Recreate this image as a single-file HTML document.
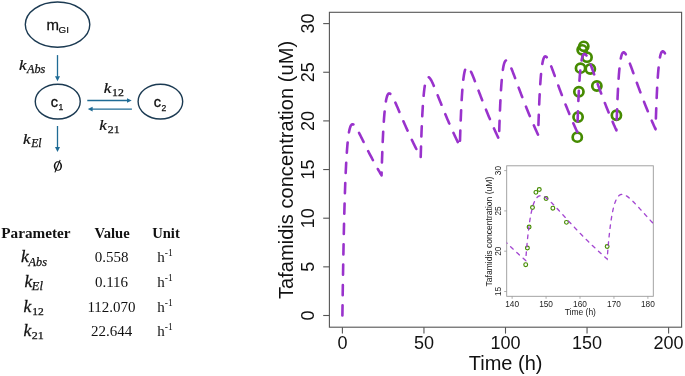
<!DOCTYPE html>
<html><head><meta charset="utf-8"><style>
html,body{margin:0;padding:0;background:#fff;}
svg{display:block;will-change:transform;}
</style></head><body>
<svg width="685" height="376" viewBox="0 0 685 376">
<rect width="685" height="376" fill="#fff"/>
<ellipse cx="57.55" cy="24.6" rx="32.25" ry="22.6" fill="none" stroke="#1b3a52" stroke-width="1.4"/>
<ellipse cx="57.75" cy="101.6" rx="22.5" ry="17.4" fill="none" stroke="#1b3a52" stroke-width="1.4"/>
<ellipse cx="160.4" cy="101.6" rx="22.3" ry="17.4" fill="none" stroke="#1b3a52" stroke-width="1.4"/>
<line x1="57.5" y1="55.1" x2="57.5" y2="76.8" stroke="#1f6b95" stroke-width="1.3"/>
<polygon points="55.0,76.3 60.0,76.3 57.5,81.3" fill="#1f6b95"/>
<line x1="57.5" y1="126" x2="57.5" y2="147.6" stroke="#1f6b95" stroke-width="1.3"/>
<polygon points="55.0,147.1 60.0,147.1 57.5,152.1" fill="#1f6b95"/>
<line x1="87.3" y1="100.5" x2="127.5" y2="100.5" stroke="#1f6b95" stroke-width="1.3"/>
<polygon points="127,98.2 127,102.8 131.7,100.5" fill="#1f6b95"/>
<line x1="92" y1="109.1" x2="131.9" y2="109.1" stroke="#1f6b95" stroke-width="1.3"/>
<polygon points="92.6,106.8 92.6,111.4 87.8,109.1" fill="#1f6b95"/>
<text x="46.6" y="29.6" font-family="Liberation Sans, sans-serif" font-size="15" fill="#111" stroke="#111" stroke-width="0.3">m</text>
<text x="58.6" y="33.3" font-family="Liberation Sans, sans-serif" font-size="9.8" fill="#111" stroke="#111" stroke-width="0.2">GI</text>
<text x="50.8" y="106.8" font-family="Liberation Sans, sans-serif" font-size="14.5" fill="#111" stroke="#111" stroke-width="0.35">c</text>
<text x="58.6" y="110.3" font-family="Liberation Sans, sans-serif" font-size="8.6" fill="#111" stroke="#111" stroke-width="0.25">1</text>
<text x="153.7" y="107" font-family="Liberation Sans, sans-serif" font-size="14.5" fill="#111" stroke="#111" stroke-width="0.35">c</text>
<text x="161.4" y="110.75" font-family="Liberation Sans, sans-serif" font-size="8.6" fill="#111" stroke="#111" stroke-width="0.25">2</text>
<text transform="translate(19.1,69.6) scale(1.1,1)" font-family="Liberation Serif, serif" font-size="15.5" font-style="italic" fill="#111" stroke="#111" stroke-width="0.25">k</text>
<text x="27.0" y="72.8" font-family="Liberation Serif, serif" font-size="11.5" font-style="italic" fill="#111" stroke="#111" stroke-width="0.25" textLength="18.30" lengthAdjust="spacingAndGlyphs">Abs</text>
<text transform="translate(22.9,143.6) scale(1.1,1)" font-family="Liberation Serif, serif" font-size="15.5" font-style="italic" fill="#111" stroke="#111" stroke-width="0.25">k</text>
<text x="31.2" y="146.8" font-family="Liberation Serif, serif" font-size="11.5" font-style="italic" fill="#111" stroke="#111" stroke-width="0.25" textLength="10.40" lengthAdjust="spacingAndGlyphs">El</text>
<text transform="translate(103.8,92.6) scale(1.1,1)" font-family="Liberation Serif, serif" font-size="15.5" font-style="italic" fill="#111" stroke="#111" stroke-width="0.25">k</text>
<text x="112.0" y="95.6" font-family="Liberation Serif, serif" font-size="10" font-style="normal" fill="#111" stroke="#111" stroke-width="0.25" textLength="11.80" lengthAdjust="spacingAndGlyphs">12</text>
<text transform="translate(99.3,129.5) scale(1.1,1)" font-family="Liberation Serif, serif" font-size="15.5" font-style="italic" fill="#111" stroke="#111" stroke-width="0.25">k</text>
<text x="107.8" y="132.6" font-family="Liberation Serif, serif" font-size="10" font-style="normal" fill="#111" stroke="#111" stroke-width="0.25" textLength="11.80" lengthAdjust="spacingAndGlyphs">21</text>
<ellipse cx="57.9" cy="166.1" rx="4.15" ry="4.75" fill="#111"/>
<ellipse cx="57.9" cy="166.1" rx="2.55" ry="3.85" fill="#fff"/>
<line x1="60.2" y1="160.0" x2="54.9" y2="172.4" stroke="#111" stroke-width="1.1"/>
<text x="1.3" y="238" font-family="Liberation Serif, serif" font-size="14.7" font-weight="bold" fill="#111" textLength="69.2" lengthAdjust="spacingAndGlyphs">Parameter</text>
<text x="112.1" y="238" font-family="Liberation Serif, serif" font-size="14.6" font-weight="bold" text-anchor="middle" fill="#111">Value</text>
<text x="166" y="238" font-family="Liberation Serif, serif" font-size="14.6" font-weight="bold" text-anchor="middle" fill="#111">Unit</text>
<text transform="translate(21.0,262.4) scale(1.08,1)" font-family="Liberation Serif, serif" font-size="16.2" font-style="italic" fill="#111" stroke="#111" stroke-width="0.25">k</text>
<text x="28.6" y="265.59999999999997" font-family="Liberation Serif, serif" font-size="11.8" font-style="italic" fill="#111" stroke="#111" stroke-width="0.25" textLength="18.30" lengthAdjust="spacingAndGlyphs">Abs</text>
<text x="111.5" y="262.4" font-family="Liberation Serif, serif" font-size="15" text-anchor="middle" fill="#111">0.558</text>
<text x="157.3" y="262.4" font-family="Liberation Serif, serif" font-size="15" fill="#111">h<tspan dy="-6" font-size="9.5">-1</tspan></text>
<text transform="translate(24.6,286.7) scale(1.08,1)" font-family="Liberation Serif, serif" font-size="16.2" font-style="italic" fill="#111" stroke="#111" stroke-width="0.25">k</text>
<text x="31.8" y="289.9" font-family="Liberation Serif, serif" font-size="11.8" font-style="italic" fill="#111" stroke="#111" stroke-width="0.25" textLength="11.10" lengthAdjust="spacingAndGlyphs">El</text>
<text x="111.5" y="286.7" font-family="Liberation Serif, serif" font-size="15" text-anchor="middle" fill="#111">0.116</text>
<text x="157.3" y="286.7" font-family="Liberation Serif, serif" font-size="15" fill="#111">h<tspan dy="-6" font-size="9.5">-1</tspan></text>
<text transform="translate(23.6,311.7) scale(1.08,1)" font-family="Liberation Serif, serif" font-size="16.2" font-style="italic" fill="#111" stroke="#111" stroke-width="0.25">k</text>
<text x="32.3" y="314.9" font-family="Liberation Serif, serif" font-size="10.8" font-style="normal" fill="#111" stroke="#111" stroke-width="0.25" textLength="11.50" lengthAdjust="spacingAndGlyphs">12</text>
<text x="111.5" y="311.7" font-family="Liberation Serif, serif" font-size="15" text-anchor="middle" fill="#111">112.070</text>
<text x="157.3" y="311.7" font-family="Liberation Serif, serif" font-size="15" fill="#111">h<tspan dy="-6" font-size="9.5">-1</tspan></text>
<text transform="translate(23.6,336.0) scale(1.08,1)" font-family="Liberation Serif, serif" font-size="16.2" font-style="italic" fill="#111" stroke="#111" stroke-width="0.25">k</text>
<text x="31.8" y="339.2" font-family="Liberation Serif, serif" font-size="10.8" font-style="normal" fill="#111" stroke="#111" stroke-width="0.25" textLength="12.00" lengthAdjust="spacingAndGlyphs">21</text>
<text x="111.5" y="336.0" font-family="Liberation Serif, serif" font-size="15" text-anchor="middle" fill="#111">22.644</text>
<text x="157.3" y="336.0" font-family="Liberation Serif, serif" font-size="15" fill="#111">h<tspan dy="-6" font-size="9.5">-1</tspan></text>
<rect x="329.4" y="12.3" width="352.2" height="314.9" fill="none" stroke="#555" stroke-width="1.1"/>
<line x1="323.2" y1="315.50" x2="329.4" y2="315.50" stroke="#555" stroke-width="1.1"/>
<text transform="translate(314.4,315.50) rotate(-90)" font-family="Liberation Sans, sans-serif" font-size="18" text-anchor="middle" fill="#111">0</text>
<line x1="323.2" y1="266.85" x2="329.4" y2="266.85" stroke="#555" stroke-width="1.1"/>
<text transform="translate(314.4,266.85) rotate(-90)" font-family="Liberation Sans, sans-serif" font-size="18" text-anchor="middle" fill="#111">5</text>
<line x1="323.2" y1="218.20" x2="329.4" y2="218.20" stroke="#555" stroke-width="1.1"/>
<text transform="translate(314.4,218.20) rotate(-90)" font-family="Liberation Sans, sans-serif" font-size="18" text-anchor="middle" fill="#111">10</text>
<line x1="323.2" y1="169.55" x2="329.4" y2="169.55" stroke="#555" stroke-width="1.1"/>
<text transform="translate(314.4,169.55) rotate(-90)" font-family="Liberation Sans, sans-serif" font-size="18" text-anchor="middle" fill="#111">15</text>
<line x1="323.2" y1="120.90" x2="329.4" y2="120.90" stroke="#555" stroke-width="1.1"/>
<text transform="translate(314.4,120.90) rotate(-90)" font-family="Liberation Sans, sans-serif" font-size="18" text-anchor="middle" fill="#111">20</text>
<line x1="323.2" y1="72.25" x2="329.4" y2="72.25" stroke="#555" stroke-width="1.1"/>
<text transform="translate(314.4,72.25) rotate(-90)" font-family="Liberation Sans, sans-serif" font-size="18" text-anchor="middle" fill="#111">25</text>
<line x1="323.2" y1="23.60" x2="329.4" y2="23.60" stroke="#555" stroke-width="1.1"/>
<text transform="translate(314.4,23.60) rotate(-90)" font-family="Liberation Sans, sans-serif" font-size="18" text-anchor="middle" fill="#111">30</text>
<line x1="342.40" y1="327.2" x2="342.40" y2="333.6" stroke="#555" stroke-width="1.1"/>
<text x="342.40" y="349.2" font-family="Liberation Sans, sans-serif" font-size="18" text-anchor="middle" fill="#111">0</text>
<line x1="423.95" y1="327.2" x2="423.95" y2="333.6" stroke="#555" stroke-width="1.1"/>
<text x="423.95" y="349.2" font-family="Liberation Sans, sans-serif" font-size="18" text-anchor="middle" fill="#111">50</text>
<line x1="505.50" y1="327.2" x2="505.50" y2="333.6" stroke="#555" stroke-width="1.1"/>
<text x="505.50" y="349.2" font-family="Liberation Sans, sans-serif" font-size="18" text-anchor="middle" fill="#111">100</text>
<line x1="587.05" y1="327.2" x2="587.05" y2="333.6" stroke="#555" stroke-width="1.1"/>
<text x="587.05" y="349.2" font-family="Liberation Sans, sans-serif" font-size="18" text-anchor="middle" fill="#111">150</text>
<line x1="668.60" y1="327.2" x2="668.60" y2="333.6" stroke="#555" stroke-width="1.1"/>
<text x="668.60" y="349.2" font-family="Liberation Sans, sans-serif" font-size="18" text-anchor="middle" fill="#111">200</text>
<text x="505.6" y="369.8" font-family="Liberation Sans, sans-serif" font-size="20" text-anchor="middle" fill="#111">Time (h)</text>
<text transform="translate(293.3,170.0) rotate(-90)" font-family="Liberation Sans, sans-serif" font-size="20.13" text-anchor="middle" fill="#111">Tafamidis concentration (uM)</text>
<clipPath id="mc"><rect x="329.4" y="12.3" width="352.2" height="314.9"/></clipPath>
<circle cx="577.26" cy="137.15" r="4.6" fill="none" stroke="#458B00" stroke-width="2.7"/>
<circle cx="578.08" cy="117.01" r="4.6" fill="none" stroke="#458B00" stroke-width="2.7"/>
<circle cx="578.89" cy="91.71" r="4.6" fill="none" stroke="#458B00" stroke-width="2.7"/>
<circle cx="580.53" cy="68.16" r="4.6" fill="none" stroke="#458B00" stroke-width="2.7"/>
<circle cx="582.16" cy="49.87" r="4.6" fill="none" stroke="#458B00" stroke-width="2.7"/>
<circle cx="583.79" cy="46.37" r="4.6" fill="none" stroke="#458B00" stroke-width="2.7"/>
<circle cx="587.05" cy="57.17" r="4.6" fill="none" stroke="#458B00" stroke-width="2.7"/>
<circle cx="590.31" cy="68.94" r="4.6" fill="none" stroke="#458B00" stroke-width="2.7"/>
<circle cx="596.84" cy="86.07" r="4.6" fill="none" stroke="#458B00" stroke-width="2.7"/>
<circle cx="616.41" cy="115.26" r="4.6" fill="none" stroke="#458B00" stroke-width="2.7"/>
<polyline clip-path="url(#mc)" points="342.40,315.50 342.81,287.45 343.22,263.19 343.62,242.23 344.03,224.13 344.44,208.52 344.85,195.07 345.25,183.51 345.66,173.59 346.07,165.09 346.48,157.83 346.89,151.65 347.29,146.40 347.70,141.96 348.11,138.23 348.52,135.12 348.92,132.53 349.33,130.41 349.74,128.70 350.15,127.33 350.55,126.26 350.96,125.46 351.37,124.88 351.78,124.51 352.19,124.30 352.59,124.25 353.00,124.32 353.41,124.50 353.82,124.78 354.22,125.15 354.63,125.58 355.04,126.08 355.45,126.63 355.86,127.22 356.26,127.86 356.67,128.52 357.08,129.22 357.49,129.94 357.89,130.68 358.30,131.44 358.71,132.22 359.12,133.00 359.53,133.80 359.93,134.60 360.34,135.41 360.75,136.23 361.16,137.04 361.56,137.87 361.97,138.69 362.38,139.52 362.79,140.34 363.20,141.17 363.60,141.99 364.01,142.82 364.42,143.64 364.83,144.46 365.23,145.28 365.64,146.09 366.05,146.91 366.46,147.72 366.86,148.53 367.27,149.33 367.68,150.14 368.09,150.93 368.50,151.73 368.90,152.52 369.31,153.31 369.72,154.10 370.13,154.88 370.53,155.66 370.94,156.43 371.35,157.21 371.76,157.97 372.17,158.74 372.57,159.50 372.98,160.26 373.39,161.01 373.80,161.76 374.20,162.51 374.61,163.25 375.02,163.99 375.43,164.73 375.84,165.46 376.24,166.19 376.65,166.92 377.06,167.64 377.47,168.36 377.87,169.07 378.28,169.79 378.69,170.49 379.10,171.20 379.51,171.90 379.91,172.60 380.32,173.29 380.73,173.99 381.14,174.67 381.54,175.36 381.95,161.98 382.36,150.49 382.77,140.66 383.17,132.26 383.58,125.10 383.99,119.03 384.40,113.89 384.81,109.58 385.21,105.97 385.62,102.98 386.03,100.53 386.44,98.55 386.84,96.97 387.25,95.74 387.66,94.81 388.07,94.15 388.48,93.72 388.88,93.48 389.29,93.42 389.70,93.51 390.11,93.72 390.51,94.05 390.92,94.47 391.33,94.98 391.74,95.56 392.15,96.20 392.55,96.89 392.96,97.63 393.37,98.40 393.78,99.21 394.18,100.05 394.59,100.91 395.00,101.79 395.41,102.69 395.82,103.60 396.22,104.53 396.63,105.46 397.04,106.40 397.45,107.35 397.85,108.30 398.26,109.25 398.67,110.21 399.08,111.17 399.48,112.13 399.89,113.09 400.30,114.04 400.71,115.00 401.12,115.96 401.52,116.91 401.93,117.86 402.34,118.81 402.75,119.75 403.15,120.69 403.56,121.63 403.97,122.57 404.38,123.50 404.79,124.43 405.19,125.35 405.60,126.27 406.01,127.19 406.42,128.10 406.82,129.01 407.23,129.91 407.64,130.81 408.05,131.71 408.46,132.60 408.86,133.49 409.27,134.37 409.68,135.25 410.09,136.13 410.49,137.00 410.90,137.87 411.31,138.73 411.72,139.59 412.13,140.45 412.53,141.30 412.94,142.14 413.35,142.99 413.76,143.82 414.16,144.66 414.57,145.49 414.98,146.32 415.39,147.14 415.79,147.96 416.20,148.77 416.61,149.58 417.02,150.39 417.43,151.19 417.83,151.99 418.24,152.79 418.65,153.58 419.06,154.36 419.46,155.15 419.87,155.93 420.28,156.70 420.69,157.48 421.10,144.18 421.50,132.79 421.91,123.04 422.32,114.72 422.73,107.65 423.13,101.66 423.54,96.61 423.95,92.38 424.36,88.86 424.77,85.95 425.17,83.58 425.58,81.68 425.99,80.18 426.40,79.03 426.80,78.19 427.21,77.61 427.62,77.26 428.03,77.10 428.44,77.12 428.84,77.29 429.25,77.58 429.66,77.99 430.07,78.49 430.47,79.07 430.88,79.73 431.29,80.44 431.70,81.21 432.10,82.03 432.51,82.88 432.92,83.76 433.33,84.68 433.74,85.61 434.14,86.57 434.55,87.54 434.96,88.53 435.37,89.52 435.77,90.53 436.18,91.54 436.59,92.56 437.00,93.59 437.41,94.61 437.81,95.64 438.22,96.67 438.63,97.70 439.04,98.73 439.44,99.75 439.85,100.78 440.26,101.80 440.67,102.83 441.08,103.85 441.48,104.86 441.89,105.87 442.30,106.88 442.71,107.89 443.11,108.89 443.52,109.89 443.93,110.88 444.34,111.87 444.75,112.86 445.15,113.84 445.56,114.82 445.97,115.79 446.38,116.76 446.78,117.73 447.19,118.68 447.60,119.64 448.01,120.59 448.41,121.54 448.82,122.48 449.23,123.42 449.64,124.35 450.05,125.28 450.45,126.20 450.86,127.12 451.27,128.04 451.68,128.95 452.08,129.86 452.49,130.76 452.90,131.66 453.31,132.55 453.72,133.44 454.12,134.33 454.53,135.21 454.94,136.08 455.35,136.96 455.75,137.82 456.16,138.69 456.57,139.55 456.98,140.40 457.39,141.25 457.79,142.10 458.20,142.95 458.61,143.78 459.02,144.62 459.42,145.45 459.83,146.28 460.24,133.04 460.65,121.70 461.06,112.00 461.46,103.74 461.87,96.72 462.28,90.78 462.69,85.79 463.09,81.61 463.50,78.14 463.91,75.29 464.32,72.97 464.72,71.12 465.13,69.67 465.54,68.57 465.95,67.78 466.36,67.25 466.76,66.95 467.17,66.84 467.58,66.91 467.99,67.13 468.39,67.47 468.80,67.93 469.21,68.48 469.62,69.11 470.03,69.81 470.43,70.58 470.84,71.39 471.25,72.26 471.66,73.16 472.06,74.09 472.47,75.05 472.88,76.03 473.29,77.03 473.70,78.05 474.10,79.08 474.51,80.13 474.92,81.18 475.33,82.24 475.73,83.30 476.14,84.37 476.55,85.44 476.96,86.51 477.37,87.59 477.77,88.66 478.18,89.73 478.59,90.81 479.00,91.87 479.40,92.94 479.81,94.01 480.22,95.07 480.63,96.13 481.03,97.18 481.44,98.23 481.85,99.28 482.26,100.33 482.67,101.37 483.07,102.40 483.48,103.43 483.89,104.46 484.30,105.48 484.70,106.50 485.11,107.51 485.52,108.52 485.93,109.53 486.34,110.53 486.74,111.52 487.15,112.51 487.56,113.50 487.97,114.48 488.37,115.46 488.78,116.43 489.19,117.40 489.60,118.36 490.01,119.32 490.41,120.27 490.82,121.22 491.23,122.16 491.64,123.10 492.04,124.04 492.45,124.97 492.86,125.90 493.27,126.82 493.68,127.73 494.08,128.65 494.49,129.56 494.90,130.46 495.31,131.36 495.71,132.26 496.12,133.15 496.53,134.03 496.94,134.92 497.34,135.79 497.75,136.67 498.16,137.54 498.57,138.40 498.98,139.26 499.38,126.06 499.79,114.75 500.20,105.09 500.61,96.86 501.01,89.87 501.42,83.97 501.83,79.01 502.24,74.86 502.65,71.43 503.05,68.61 503.46,66.32 503.87,64.50 504.28,63.09 504.68,62.02 505.09,61.26 505.50,60.76 505.91,60.49 506.32,60.42 506.72,60.52 507.13,60.76 507.54,61.14 507.95,61.62 508.35,62.21 508.76,62.87 509.17,63.60 509.58,64.40 509.99,65.25 510.39,66.14 510.80,67.07 511.21,68.03 511.62,69.02 512.02,70.03 512.43,71.06 512.84,72.11 513.25,73.17 513.65,74.24 514.06,75.32 514.47,76.41 514.88,77.50 515.29,78.60 515.69,79.70 516.10,80.80 516.51,81.90 516.92,83.00 517.32,84.10 517.73,85.20 518.14,86.30 518.55,87.39 518.96,88.48 519.36,89.57 519.77,90.66 520.18,91.74 520.59,92.82 520.99,93.89 521.40,94.96 521.81,96.03 522.22,97.09 522.63,98.15 523.03,99.20 523.44,100.25 523.85,101.29 524.26,102.33 524.66,103.36 525.07,104.39 525.48,105.42 525.89,106.44 526.30,107.45 526.70,108.46 527.11,109.47 527.52,110.47 527.93,111.47 528.33,112.46 528.74,113.44 529.15,114.43 529.56,115.40 529.96,116.38 530.37,117.34 530.78,118.31 531.19,119.27 531.60,120.22 532.00,121.17 532.41,122.11 532.82,123.05 533.23,123.99 533.63,124.92 534.04,125.85 534.45,126.77 534.86,127.69 535.27,128.60 535.67,129.51 536.08,130.41 536.49,131.31 536.90,132.21 537.30,133.10 537.71,133.99 538.12,134.87 538.53,121.69 538.94,110.40 539.34,100.76 539.75,92.55 540.16,85.59 540.57,79.71 540.97,74.76 541.38,70.64 541.79,67.22 542.20,64.42 542.61,62.16 543.01,60.36 543.42,58.96 543.83,57.92 544.24,57.18 544.64,56.70 545.05,56.45 545.46,56.39 545.87,56.51 546.27,56.78 546.68,57.17 547.09,57.68 547.50,58.28 547.91,58.96 548.31,59.71 548.72,60.53 549.13,61.39 549.54,62.31 549.94,63.25 550.35,64.23 550.76,65.24 551.17,66.27 551.58,67.32 551.98,68.39 552.39,69.47 552.80,70.56 553.21,71.66 553.61,72.76 554.02,73.87 554.43,74.99 554.84,76.10 555.25,77.22 555.65,78.34 556.06,79.46 556.47,80.57 556.88,81.69 557.28,82.80 557.69,83.92 558.10,85.02 558.51,86.13 558.92,87.23 559.32,88.33 559.73,89.43 560.14,90.52 560.55,91.60 560.95,92.68 561.36,93.76 561.77,94.84 562.18,95.90 562.59,96.97 562.99,98.03 563.40,99.08 563.81,100.13 564.22,101.18 564.62,102.22 565.03,103.25 565.44,104.28 565.85,105.31 566.25,106.33 566.66,107.35 567.07,108.36 567.48,109.37 567.89,110.37 568.29,111.36 568.70,112.36 569.11,113.34 569.52,114.33 569.92,115.30 570.33,116.28 570.74,117.25 571.15,118.21 571.56,119.17 571.96,120.12 572.37,121.07 572.78,122.02 573.19,122.96 573.59,123.90 574.00,124.83 574.41,125.75 574.82,126.68 575.23,127.60 575.63,128.51 576.04,129.42 576.45,130.32 576.86,131.22 577.26,132.12 577.67,118.95 578.08,107.68 578.49,98.05 578.89,89.85 579.30,82.90 579.71,77.03 580.12,72.10 580.53,67.99 580.93,64.59 581.34,61.80 581.75,59.55 582.16,57.77 582.56,56.38 582.97,55.35 583.38,54.62 583.79,54.15 584.20,53.92 584.60,53.87 585.01,54.01 585.42,54.28 585.83,54.69 586.23,55.21 586.64,55.82 587.05,56.51 587.46,57.28 587.87,58.11 588.27,58.98 588.68,59.91 589.09,60.87 589.50,61.86 589.90,62.88 590.31,63.92 590.72,64.98 591.13,66.06 591.54,67.15 591.94,68.25 592.35,69.36 592.76,70.48 593.17,71.60 593.57,72.72 593.98,73.85 594.39,74.98 594.80,76.11 595.20,77.24 595.61,78.36 596.02,79.49 596.43,80.62 596.84,81.74 597.24,82.86 597.65,83.97 598.06,85.09 598.47,86.20 598.87,87.30 599.28,88.40 599.69,89.50 600.10,90.59 600.51,91.68 600.91,92.76 601.32,93.84 601.73,94.92 602.14,95.98 602.54,97.05 602.95,98.11 603.36,99.16 603.77,100.21 604.18,101.26 604.58,102.30 604.99,103.34 605.40,104.37 605.81,105.39 606.21,106.41 606.62,107.43 607.03,108.44 607.44,109.45 607.85,110.45 608.25,111.44 608.66,112.44 609.07,113.42 609.48,114.41 609.88,115.38 610.29,116.36 610.70,117.32 611.11,118.29 611.51,119.25 611.92,120.20 612.33,121.15 612.74,122.10 613.15,123.04 613.55,123.97 613.96,124.90 614.37,125.83 614.78,126.75 615.18,127.67 615.59,128.58 616.00,129.49 616.41,130.40 616.82,117.24 617.22,105.97 617.63,96.35 618.04,88.16 618.45,81.22 618.85,75.36 619.26,70.44 619.67,66.34 620.08,62.94 620.49,60.16 620.89,57.92 621.30,56.14 621.71,54.77 622.12,53.74 622.52,53.02 622.93,52.56 623.34,52.33 623.75,52.30 624.16,52.44 624.56,52.72 624.97,53.14 625.38,53.66 625.79,54.28 626.19,54.98 626.60,55.75 627.01,56.59 627.42,57.47 627.83,58.40 628.23,59.37 628.64,60.37 629.05,61.40 629.46,62.44 629.86,63.51 630.27,64.60 630.68,65.70 631.09,66.80 631.49,67.92 631.90,69.04 632.31,70.17 632.72,71.30 633.13,72.44 633.53,73.57 633.94,74.71 634.35,75.85 634.76,76.98 635.16,78.11 635.57,79.25 635.98,80.38 636.39,81.50 636.80,82.62 637.20,83.74 637.61,84.86 638.02,85.97 638.43,87.08 638.83,88.18 639.24,89.28 639.65,90.37 640.06,91.46 640.47,92.55 640.87,93.63 641.28,94.71 641.69,95.78 642.10,96.84 642.50,97.90 642.91,98.96 643.32,100.01 643.73,101.06 644.13,102.10 644.54,103.14 644.95,104.17 645.36,105.19 645.77,106.22 646.17,107.23 646.58,108.25 646.99,109.25 647.40,110.25 647.80,111.25 648.21,112.25 648.62,113.23 649.03,114.22 649.44,115.20 649.84,116.17 650.25,117.14 650.66,118.10 651.07,119.06 651.47,120.02 651.88,120.97 652.29,121.91 652.70,122.86 653.11,123.79 653.51,124.72 653.92,125.65 654.33,126.58 654.74,127.49 655.14,128.41 655.55,129.32 655.96,116.16 656.37,104.90 656.78,95.29 657.18,87.11 657.59,80.17 658.00,74.31 658.41,69.40 658.81,65.30 659.22,61.91 659.63,59.13 660.04,56.90 660.44,55.12 660.85,53.75 661.26,52.73 661.67,52.02 662.08,51.56 662.48,51.34 662.89,51.31 663.30,51.45 663.71,51.74 664.11,52.16 664.52,52.69 664.93,53.32 665.34,54.02 665.75,54.80 666.15,55.64 666.56,56.53 666.97,57.46 667.38,58.43 667.78,59.44 668.19,60.47 668.60,61.52" fill="none" stroke="#9932CC" stroke-width="2.6" stroke-dasharray="10.2 10.17" stroke-linecap="round" stroke-linejoin="round"/>
<rect x="470" y="160" width="200" height="165" fill="#fff"/>
<clipPath id="ic"><rect x="506.7" y="165.8" width="146.6" height="130.5"/></clipPath>
<rect x="506.7" y="165.8" width="146.6" height="130.5" fill="none" stroke="#999" stroke-width="0.9"/>
<line x1="504.2" y1="291.50" x2="506.7" y2="291.50" stroke="#999" stroke-width="0.8"/>
<text transform="translate(500.7,291.50) rotate(-90)" font-family="Liberation Sans, sans-serif" font-size="8.3" text-anchor="middle" fill="#222">15</text>
<line x1="504.2" y1="251.20" x2="506.7" y2="251.20" stroke="#999" stroke-width="0.8"/>
<text transform="translate(500.7,251.20) rotate(-90)" font-family="Liberation Sans, sans-serif" font-size="8.3" text-anchor="middle" fill="#222">20</text>
<line x1="504.2" y1="210.90" x2="506.7" y2="210.90" stroke="#999" stroke-width="0.8"/>
<text transform="translate(500.7,210.90) rotate(-90)" font-family="Liberation Sans, sans-serif" font-size="8.3" text-anchor="middle" fill="#222">25</text>
<line x1="504.2" y1="170.60" x2="506.7" y2="170.60" stroke="#999" stroke-width="0.8"/>
<text transform="translate(500.7,170.60) rotate(-90)" font-family="Liberation Sans, sans-serif" font-size="8.3" text-anchor="middle" fill="#222">30</text>
<line x1="512.13" y1="296.3" x2="512.13" y2="298.8" stroke="#999" stroke-width="0.8"/>
<text x="512.13" y="306.5" font-family="Liberation Sans, sans-serif" font-size="8.3" text-anchor="middle" fill="#222">140</text>
<line x1="546.07" y1="296.3" x2="546.07" y2="298.8" stroke="#999" stroke-width="0.8"/>
<text x="546.07" y="306.5" font-family="Liberation Sans, sans-serif" font-size="8.3" text-anchor="middle" fill="#222">150</text>
<line x1="580.01" y1="296.3" x2="580.01" y2="298.8" stroke="#999" stroke-width="0.8"/>
<text x="580.01" y="306.5" font-family="Liberation Sans, sans-serif" font-size="8.3" text-anchor="middle" fill="#222">160</text>
<line x1="613.95" y1="296.3" x2="613.95" y2="298.8" stroke="#999" stroke-width="0.8"/>
<text x="613.95" y="306.5" font-family="Liberation Sans, sans-serif" font-size="8.3" text-anchor="middle" fill="#222">170</text>
<line x1="647.89" y1="296.3" x2="647.89" y2="298.8" stroke="#999" stroke-width="0.8"/>
<text x="647.89" y="306.5" font-family="Liberation Sans, sans-serif" font-size="8.3" text-anchor="middle" fill="#222">180</text>
<text x="580.3" y="315.2" font-family="Liberation Sans, sans-serif" font-size="8.5" text-anchor="middle" fill="#1a1a1a">Time (h)</text>
<text transform="translate(491.7,231.6) rotate(-90)" font-family="Liberation Sans, sans-serif" font-size="8.55" text-anchor="middle" fill="#1a1a1a">Tafamidis concentration (uM)</text>
<circle cx="525.71" cy="264.66" r="1.9" fill="none" stroke="#458B00" stroke-width="1.15"/>
<circle cx="527.40" cy="247.98" r="1.9" fill="none" stroke="#458B00" stroke-width="1.15"/>
<circle cx="529.10" cy="227.02" r="1.9" fill="none" stroke="#458B00" stroke-width="1.15"/>
<circle cx="532.49" cy="207.51" r="1.9" fill="none" stroke="#458B00" stroke-width="1.15"/>
<circle cx="535.89" cy="192.36" r="1.9" fill="none" stroke="#458B00" stroke-width="1.15"/>
<circle cx="539.28" cy="189.46" r="1.9" fill="none" stroke="#458B00" stroke-width="1.15"/>
<circle cx="546.07" cy="198.41" r="1.9" fill="none" stroke="#458B00" stroke-width="1.15"/>
<circle cx="552.86" cy="208.16" r="1.9" fill="none" stroke="#458B00" stroke-width="1.15"/>
<circle cx="566.43" cy="222.35" r="1.9" fill="none" stroke="#458B00" stroke-width="1.15"/>
<circle cx="607.16" cy="246.53" r="1.9" fill="none" stroke="#458B00" stroke-width="1.15"/>
<polyline clip-path="url(#ic)" points="478.19,213.17 478.53,213.54 478.87,213.91 479.21,214.28 479.55,214.65 479.89,215.02 480.23,215.39 480.57,215.76 480.91,216.13 481.24,216.50 481.58,216.87 481.92,217.24 482.26,217.61 482.60,217.98 482.94,218.35 483.28,218.72 483.62,219.09 483.96,219.46 484.30,219.83 484.64,220.20 484.98,220.56 485.32,220.93 485.66,221.30 486.00,221.67 486.34,222.03 486.68,222.40 487.01,222.76 487.35,223.13 487.69,223.49 488.03,223.86 488.37,224.22 488.71,224.58 489.05,224.95 489.39,225.31 489.73,225.67 490.07,226.03 490.41,226.39 490.75,226.75 491.09,227.11 491.43,227.47 491.77,227.83 492.11,228.19 492.45,228.54 492.78,228.90 493.12,229.25 493.46,229.61 493.80,229.96 494.14,230.32 494.48,230.67 494.82,231.02 495.16,231.38 495.50,231.73 495.84,232.08 496.18,232.43 496.52,232.78 496.86,233.13 497.20,233.48 497.54,233.82 497.88,234.17 498.21,234.52 498.55,234.86 498.89,235.21 499.23,235.55 499.57,235.90 499.91,236.24 500.25,236.58 500.59,236.92 500.93,237.27 501.27,237.61 501.61,237.95 501.95,238.29 502.29,238.62 502.63,238.96 502.97,239.30 503.31,239.64 503.65,239.97 503.98,240.31 504.32,240.64 504.66,240.98 505.00,241.31 505.34,241.65 505.68,241.98 506.02,242.31 506.36,242.64 506.70,242.97 507.04,243.30 507.38,243.63 507.72,243.96 508.06,244.29 508.40,244.61 508.74,244.94 509.08,245.27 509.42,245.59 509.75,245.92 510.09,246.24 510.43,246.56 510.77,246.89 511.11,247.21 511.45,247.53 511.79,247.85 512.13,248.17 512.47,248.49 512.81,248.81 513.15,249.13 513.49,249.45 513.83,249.77 514.17,250.08 514.51,250.40 514.85,250.71 515.18,251.03 515.52,251.34 515.86,251.66 516.20,251.97 516.54,252.28 516.88,252.59 517.22,252.91 517.56,253.22 517.90,253.53 518.24,253.84 518.58,254.15 518.92,254.45 519.26,254.76 519.60,255.07 519.94,255.37 520.28,255.68 520.62,255.99 520.95,256.29 521.29,256.59 521.63,256.90 521.97,257.20 522.31,257.50 522.65,257.80 522.99,258.11 523.33,258.41 523.67,258.71 524.01,259.01 524.35,259.30 524.69,259.60 525.03,259.90 525.37,260.20 525.71,260.49 526.05,255.93 526.39,251.63 526.72,247.60 527.06,243.81 527.40,240.25 527.74,236.90 528.08,233.77 528.42,230.82 528.76,228.07 529.10,225.48 529.44,223.06 529.78,220.80 530.12,218.68 530.46,216.71 530.80,214.86 531.14,213.14 531.48,211.54 531.82,210.05 532.15,208.66 532.49,207.37 532.83,206.18 533.17,205.07 533.51,204.05 533.85,203.11 534.19,202.25 534.53,201.45 534.87,200.72 535.21,200.06 535.55,199.45 535.89,198.90 536.23,198.41 536.57,197.96 536.91,197.56 537.25,197.21 537.59,196.90 537.92,196.63 538.26,196.40 538.60,196.20 538.94,196.04 539.28,195.91 539.62,195.81 539.96,195.74 540.30,195.69 540.64,195.67 540.98,195.68 541.32,195.71 541.66,195.75 542.00,195.82 542.34,195.91 542.68,196.02 543.02,196.14 543.36,196.28 543.69,196.43 544.03,196.60 544.37,196.78 544.71,196.98 545.05,197.18 545.39,197.40 545.73,197.63 546.07,197.87 546.41,198.11 546.75,198.37 547.09,198.63 547.43,198.90 547.77,199.18 548.11,199.47 548.45,199.76 548.79,200.06 549.12,200.36 549.46,200.67 549.80,200.99 550.14,201.31 550.48,201.63 550.82,201.96 551.16,202.29 551.50,202.63 551.84,202.96 552.18,203.31 552.52,203.65 552.86,204.00 553.20,204.35 553.54,204.70 553.88,205.06 554.22,205.41 554.56,205.77 554.89,206.13 555.23,206.49 555.57,206.86 555.91,207.22 556.25,207.59 556.59,207.95 556.93,208.32 557.27,208.69 557.61,209.06 557.95,209.43 558.29,209.80 558.63,210.17 558.97,210.54 559.31,210.92 559.65,211.29 559.99,211.66 560.33,212.04 560.66,212.41 561.00,212.79 561.34,213.16 561.68,213.53 562.02,213.91 562.36,214.28 562.70,214.66 563.04,215.03 563.38,215.40 563.72,215.78 564.06,216.15 564.40,216.53 564.74,216.90 565.08,217.27 565.42,217.64 565.76,218.02 566.09,218.39 566.43,218.76 566.77,219.13 567.11,219.50 567.45,219.87 567.79,220.24 568.13,220.61 568.47,220.98 568.81,221.35 569.15,221.72 569.49,222.09 569.83,222.45 570.17,222.82 570.51,223.18 570.85,223.55 571.19,223.92 571.53,224.28 571.86,224.64 572.20,225.01 572.54,225.37 572.88,225.73 573.22,226.09 573.56,226.45 573.90,226.81 574.24,227.17 574.58,227.53 574.92,227.89 575.26,228.25 575.60,228.61 575.94,228.96 576.28,229.32 576.62,229.68 576.96,230.03 577.30,230.38 577.63,230.74 577.97,231.09 578.31,231.44 578.65,231.79 578.99,232.15 579.33,232.50 579.67,232.85 580.01,233.19 580.35,233.54 580.69,233.89 581.03,234.24 581.37,234.58 581.71,234.93 582.05,235.28 582.39,235.62 582.73,235.96 583.06,236.31 583.40,236.65 583.74,236.99 584.08,237.33 584.42,237.67 584.76,238.01 585.10,238.35 585.44,238.69 585.78,239.03 586.12,239.37 586.46,239.70 586.80,240.04 587.14,240.38 587.48,240.71 587.82,241.05 588.16,241.38 588.50,241.71 588.83,242.04 589.17,242.38 589.51,242.71 589.85,243.04 590.19,243.37 590.53,243.70 590.87,244.03 591.21,244.35 591.55,244.68 591.89,245.01 592.23,245.33 592.57,245.66 592.91,245.98 593.25,246.31 593.59,246.63 593.93,246.95 594.27,247.28 594.60,247.60 594.94,247.92 595.28,248.24 595.62,248.56 595.96,248.88 596.30,249.20 596.64,249.51 596.98,249.83 597.32,250.15 597.66,250.46 598.00,250.78 598.34,251.09 598.68,251.41 599.02,251.72 599.36,252.03 599.70,252.35 600.03,252.66 600.37,252.97 600.71,253.28 601.05,253.59 601.39,253.90 601.73,254.21 602.07,254.52 602.41,254.82 602.75,255.13 603.09,255.44 603.43,255.74 603.77,256.05 604.11,256.35 604.45,256.66 604.79,256.96 605.13,257.26 605.47,257.56 605.80,257.87 606.14,258.17 606.48,258.47 606.82,258.77 607.16,259.07 607.50,254.50 607.84,250.21 608.18,246.18 608.52,242.39 608.86,238.83 609.20,235.49 609.54,232.36 609.88,229.42 610.22,226.66 610.56,224.08 610.90,221.67 611.24,219.41 611.57,217.29 611.91,215.32 612.25,213.48 612.59,211.76 612.93,210.16 613.27,208.67 613.61,207.29 613.95,206.00 614.29,204.81 614.63,203.71 614.97,202.69 615.31,201.75 615.65,200.89 615.99,200.09 616.33,199.37 616.67,198.70 617.00,198.10 617.34,197.56 617.68,197.06 618.02,196.62 618.36,196.22 618.70,195.87 619.04,195.57 619.38,195.30 619.72,195.07 620.06,194.88 620.40,194.72 620.74,194.59 621.08,194.49 621.42,194.42 621.76,194.38 622.10,194.36 622.44,194.37 622.77,194.40 623.11,194.45 623.45,194.52 623.79,194.61 624.13,194.72 624.47,194.85 624.81,194.99 625.15,195.15 625.49,195.32 625.83,195.50 626.17,195.70 626.51,195.91 626.85,196.13 627.19,196.36 627.53,196.60 627.87,196.85 628.21,197.10 628.54,197.37 628.88,197.64 629.22,197.93 629.56,198.21 629.90,198.51 630.24,198.81 630.58,199.12 630.92,199.43 631.26,199.75 631.60,200.07 631.94,200.39 632.28,200.72 632.62,201.06 632.96,201.40 633.30,201.74 633.64,202.08 633.97,202.43 634.31,202.78 634.65,203.13 634.99,203.48 635.33,203.84 635.67,204.20 636.01,204.56 636.35,204.92 636.69,205.29 637.03,205.65 637.37,206.02 637.71,206.39 638.05,206.76 638.39,207.13 638.73,207.50 639.07,207.87 639.41,208.24 639.74,208.62 640.08,208.99 640.42,209.37 640.76,209.74 641.10,210.12 641.44,210.49 641.78,210.87 642.12,211.24 642.46,211.62 642.80,212.00 643.14,212.37 643.48,212.75 643.82,213.13 644.16,213.50 644.50,213.88 644.84,214.26 645.18,214.63 645.51,215.01 645.85,215.38 646.19,215.76 646.53,216.13 646.87,216.51 647.21,216.88 647.55,217.26 647.89,217.63 648.23,218.00 648.57,218.38 648.91,218.75 649.25,219.12 649.59,219.49 649.93,219.86 650.27,220.24 650.61,220.61 650.94,220.98 651.28,221.34 651.62,221.71 651.96,222.08 652.30,222.45 652.64,222.82 652.98,223.18 653.32,223.55 653.66,223.91 654.00,224.28 654.34,224.64 654.68,225.01 655.02,225.37 655.36,225.73 655.70,226.09 656.04,226.46 656.38,226.82 656.71,227.18 657.05,227.54 657.39,227.89 657.73,228.25 658.07,228.61 658.41,228.97 658.75,229.32 659.09,229.68 659.43,230.03 659.77,230.39 660.11,230.74 660.45,231.09 660.79,231.45 661.13,231.80 661.47,232.15 661.81,232.50 662.15,232.85 662.48,233.20 662.82,233.55 663.16,233.90 663.50,234.24 663.84,234.59 664.18,234.94 664.52,235.28 664.86,235.63 665.20,235.97 665.54,236.31 665.88,236.66 666.22,237.00 666.56,237.34 666.90,237.68 667.24,238.02 667.58,238.36 667.91,238.70 668.25,239.04 668.59,239.37 668.93,239.71 669.27,240.05 669.61,240.38 669.95,240.72 670.29,241.05 670.63,241.39 670.97,241.72 671.31,242.05 671.65,242.38 671.99,242.71 672.33,243.04 672.67,243.37 673.01,243.70 673.35,244.03 673.68,244.36 674.02,244.69 674.36,245.01 674.70,245.34 675.04,245.66 675.38,245.99 675.72,246.31 676.06,246.64 676.40,246.96 676.74,247.28 677.08,247.60 677.42,247.92 677.76,248.24 678.10,248.56 678.44,248.88 678.78,249.20 679.12,249.52 679.45,249.84 679.79,250.15 680.13,250.47 680.47,250.78 680.81,251.10 681.15,251.41 681.49,251.73 681.83,252.04" fill="none" stroke="#9932CC" stroke-width="1.35" stroke-dasharray="3.5 5" stroke-dashoffset="-4.2" stroke-linecap="round" opacity="0.9"/>
</svg>
</body></html>
